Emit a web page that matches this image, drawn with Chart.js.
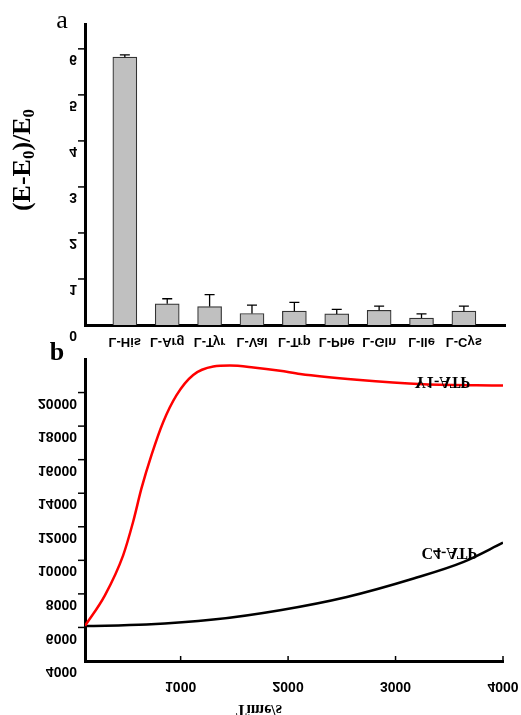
<!DOCTYPE html>
<html lang="en">
<head>
<meta charset="UTF-8">
<script src="https://cdn.jsdelivr.net/npm/chart.js"></script>
<title>Selectivity and kinetics</title>
<style>
    body { margin: 0; background: #fff; }
    #wrap { position: relative; width: 521px; height: 715px; }
    canvas { position: absolute; left: 0; }
    #chartA { top: 0; }
    #chartB { top: 335px; }
</style>
</head>
<body>
<div id="wrap">
    <canvas id="chartA" width="521" height="355"></canvas>
    <canvas id="chartB" width="521" height="380"></canvas>
</div>
<script>
// panel a
var aminoAcids = ['L-His', 'L-Arg', 'L-Tyr', 'L-Val', 'L-Trp', 'L-Phe', 'L-Gln', 'L-Ile', 'L-Cys'];
var ratioValues = [5.82, 0.46, 0.40, 0.25, 0.30, 0.24, 0.32, 0.15, 0.30];
var ratioErrors = [0.05, 0.11, 0.26, 0.18, 0.19, 0.10, 0.09, 0.09, 0.11];
var ratioTicks = [0, 1, 2, 3, 4, 5, 6];

// panel b
var timeY1 = [110, 294, 465, 558, 636, 730, 838, 962, 1117, 1304, 1459, 1677, 1925, 2112, 2640, 3261, 4000];
var signalY1 = [6100, 7900, 10300, 12300, 14300, 16300, 18250, 19850, 21050, 21550, 21610, 21500, 21300, 21100, 20760, 20500, 20420];
var timeC4 = [110, 683, 1304, 1925, 2547, 3168, 3634, 4000];
var signalC4 = [6080, 6170, 6470, 7030, 7820, 8920, 9910, 11050];
var signalTicks = [4000, 6000, 8000, 10000, 12000, 14000, 16000, 18000, 20000];
var timeTicks = [1000, 2000, 3000, 4000];

// the reference draws its tick texts upside down, glyph by glyph
function flipText(ctx, text, x, y, align) {
    ctx.save();
    ctx.translate(x, y);
    ctx.scale(1, -1);
    ctx.textAlign = align;
    ctx.textBaseline = 'middle';
    ctx.fillText(text, 0, 0);
    ctx.restore();
}

var LABEL_FONT = 'bold 13px "Liberation Sans", Arial, sans-serif';
var NUM_FONT = 'bold 14px "Liberation Sans", Arial, sans-serif';
var SERIF = '"Liberation Serif", "Times New Roman", serif';

var panelA = {
    id: 'panelA',
    afterDatasetsDraw: function (chart) {
        var ctx = chart.ctx, xs = chart.scales.x, ys = chart.scales.y;
        ctx.save();
        ctx.strokeStyle = '#000';
        ctx.lineWidth = 1.3;
        chart.getDatasetMeta(0).data.forEach(function (bar, i) {
            var top = ys.getPixelForValue(ratioValues[i] + ratioErrors[i]);
            ctx.beginPath();
            ctx.moveTo(bar.x, bar.y);
            ctx.lineTo(bar.x, top);
            ctx.moveTo(bar.x - 5, top);
            ctx.lineTo(bar.x + 5, top);
            ctx.stroke();
        });
        ctx.fillStyle = '#000';
        ctx.lineWidth = 1.5;
        ratioTicks.forEach(function (v) {
            var py = ys.getPixelForValue(v);
            if (v > 0) {
                ctx.beginPath();
                ctx.moveTo(xs.left - 7, py);
                ctx.lineTo(xs.left, py);
                ctx.stroke();
            }
            ctx.font = NUM_FONT;
            flipText(ctx, String(v), 77, py + 10, 'right');
        });
        ctx.font = LABEL_FONT;
        aminoAcids.forEach(function (name, i) {
            flipText(ctx, name, xs.getPixelForValue(i), ys.bottom + 17, 'center');
        });
        // axis title (E-E0)/E0, rotated
        ctx.save();
        ctx.translate(23, 160);
        ctx.rotate(-Math.PI / 2);
        ctx.textBaseline = 'middle';
        ctx.textAlign = 'left';
        var parts = [['(E-E', 26, 0], ['0', 17, 7], [')/E', 26, 0], ['0', 17, 7]];
        var total = 0;
        parts.forEach(function (p) { ctx.font = 'bold ' + p[1] + 'px ' + SERIF; total += ctx.measureText(p[0]).width; });
        var cx = -total / 2;
        parts.forEach(function (p) {
            ctx.font = 'bold ' + p[1] + 'px ' + SERIF;
            ctx.fillText(p[0], cx, p[2]);
            cx += ctx.measureText(p[0]).width;
        });
        ctx.restore();
        ctx.font = '26px ' + SERIF;
        ctx.textAlign = 'center';
        ctx.textBaseline = 'alphabetic';
        ctx.fillText('a', 62, 28);
        ctx.restore();
    }
};

var panelB = {
    id: 'panelB',
    afterDatasetsDraw: function (chart) {
        var ctx = chart.ctx, xs = chart.scales.x, ys = chart.scales.y;
        ctx.save();
        ctx.strokeStyle = '#000';
        ctx.fillStyle = '#000';
        ctx.lineWidth = 1.5;
        ctx.font = NUM_FONT;
        signalTicks.forEach(function (v) {
            var py = ys.getPixelForValue(v);
            if (v > ys.min) {
                ctx.beginPath();
                ctx.moveTo(xs.left - 7, py);
                ctx.lineTo(xs.left, py);
                ctx.stroke();
            }
            flipText(ctx, String(v), 77, py + 10, 'right');
        });
        timeTicks.forEach(function (t) {
            var px = xs.getPixelForValue(t);
            ctx.beginPath();
            ctx.moveTo(px, ys.bottom);
            ctx.lineTo(px, ys.bottom - 5);
            ctx.stroke();
            flipText(ctx, String(t), px, ys.bottom + 25, 'center');
        });
        ctx.font = 'bold 16px ' + SERIF;
        flipText(ctx, 'Time/s', 259, ys.bottom + 48, 'center');
        flipText(ctx, 'Y1-ATP', xs.getPixelForValue(3435), ys.getPixelForValue(20700), 'center');
        flipText(ctx, 'C4-ATP', xs.getPixelForValue(3500), ys.getPixelForValue(10490), 'center');
        ctx.font = 'bold 26px ' + SERIF;
        ctx.textAlign = 'center';
        ctx.textBaseline = 'alphabetic';
        ctx.fillText('b', 57, 25);
        ctx.restore();
    }
};

function plainAxis(extra) {
    var axis = {
        type: 'linear',
        ticks: { display: false },
        grid: { display: false, drawTicks: false },
        border: { display: true, color: '#000', width: 3 }
    };
    for (var k in extra) axis[k] = extra[k];
    return axis;
}

new Chart(document.getElementById('chartA'), {
    type: 'bar',
    data: {
        datasets: [{
            data: ratioValues.map(function (v, i) { return { x: i, y: v }; }),
            backgroundColor: '#c0c0c0',
            borderColor: '#333',
            borderWidth: 1.2,
            borderSkipped: 'bottom',
            barThickness: 24
        }]
    },
    options: {
        responsive: false,
        animation: false,
        devicePixelRatio: 1,
        layout: { padding: { left: 85, right: 16, top: 24, bottom: 30 } },
        plugins: { legend: { display: false }, tooltip: { enabled: false } },
        scales: {
            x: plainAxis({ min: -0.94, max: 8.97, offset: false }),
            y: plainAxis({ min: 0, max: 6.54 })
        }
    },
    plugins: [panelA]
});

new Chart(document.getElementById('chartB'), {
    type: 'line',
    data: {
        datasets: [{
            label: 'Y1-ATP',
            data: timeY1.map(function (t, i) { return { x: t, y: signalY1[i] }; }),
            borderColor: '#ff0000',
            borderWidth: 2.5,
            pointRadius: 0,
            cubicInterpolationMode: 'monotone',
            fill: false
        }, {
            label: 'C4-ATP',
            data: timeC4.map(function (t, i) { return { x: t, y: signalC4[i] }; }),
            borderColor: '#000',
            borderWidth: 2.5,
            pointRadius: 0,
            cubicInterpolationMode: 'monotone',
            fill: false
        }]
    },
    options: {
        responsive: false,
        animation: false,
        devicePixelRatio: 1,
        layout: { padding: { left: 85, right: 18, top: 24, bottom: 54 } },
        plugins: { legend: { display: false }, tooltip: { enabled: false } },
        scales: {
            x: plainAxis({ min: 110, max: 4000 }),
            y: plainAxis({ min: 4000, max: 22000 })
        }
    },
    plugins: [panelB]
});
</script>
</body>
</html>
